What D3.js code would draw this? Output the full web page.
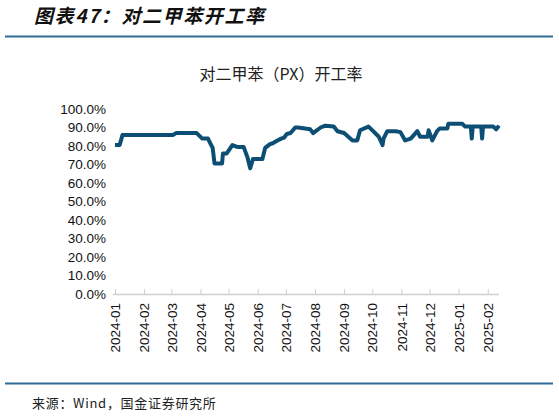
<!DOCTYPE html>
<html><head><meta charset="utf-8">
<script src="https://cdn.jsdelivr.net/npm/d3@7"></script>
<style>body{margin:0;background:#fff}svg{display:block}</style>
</head><body>
<svg id="c" width="559" height="416"></svg>
<script>
const dates = ["2024-01-01","2024-01-06","2024-01-09","2024-03-03","2024-03-06","2024-03-28","2024-04-03","2024-04-09","2024-04-14","2024-04-16","2024-04-24","2024-04-25","2024-04-29","2024-05-05","2024-05-10","2024-05-17","2024-05-21","2024-05-24","2024-05-27","2024-06-06","2024-06-09","2024-06-14","2024-06-17","2024-06-22","2024-06-26","2024-06-29","2024-07-02","2024-07-06","2024-07-11","2024-07-14","2024-07-27","2024-07-30","2024-08-07","2024-08-12","2024-08-21","2024-08-25","2024-09-01","2024-09-10","2024-09-15","2024-09-18","2024-09-27","2024-10-02","2024-10-08","2024-10-12","2024-10-13","2024-10-17","2024-10-26","2024-10-31","2024-11-05","2024-11-11","2024-11-18","2024-11-21","2024-11-29","2024-11-30","2024-12-04","2024-12-09","2024-12-12","2024-12-20","2024-12-21","2025-01-05","2025-01-08","2025-01-14","2025-01-15","2025-01-16","2025-01-25","2025-01-26","2025-01-27","2025-02-07","2025-02-10","2025-02-13"];
const rates = [80.5,80.5,86,86,87,87,84,84,79,70.5,70.5,76,76,80.5,79.5,79.5,74,68,73,73,79,81,81.5,83,84,84.5,86.5,87,90,90,89,87,90,91,90.5,88,87,83,83,88.5,90.5,88,85,80.5,84,88,88,87.5,83,84,88,85,85,88.5,83,88,89.5,89.5,92,92,90.5,90.5,84,90.5,90.5,84,90.5,90.5,89,91];
const yTicks = [0,10,20,30,40,50,60,70,80,90,100];
const xTickLabels = ["2024-01","2024-02","2024-03","2024-04","2024-05","2024-06","2024-07","2024-08","2024-09","2024-10","2024-11","2024-12","2025-01","2025-02"];

const svg = d3.select("#c");
const parse = d3.timeParse("%Y-%m-%d");
const parseM = d3.timeParse("%Y-%m");
const data = dates.map((d,i)=>({d:parse(d), v:rates[i]}));

const x = d3.scaleTime().domain([parse("2024-01-01"), parse("2025-02-13")]).range([115, 499]);
const y = d3.scaleLinear().domain([0,100]).range([294, 109]);

// header
svg.append("text").attr("x",34).attr("y",23)
  .attr("font-family","'Noto Sans CJK SC', sans-serif").attr("font-size",19)
  .attr("font-weight","bold").attr("font-style","italic").attr("fill","#111")
  .attr("letter-spacing",1.6)
  .text("图表47：对二甲苯开工率");
svg.append("line").attr("x1",5).attr("x2",553).attr("y1",36.5).attr("y2",36.5)
  .attr("stroke","#2f6c97").attr("stroke-width",2);
svg.append("line").attr("x1",5).attr("x2",553).attr("y1",383.5).attr("y2",383.5)
  .attr("stroke","#2f6c97").attr("stroke-width",2);
svg.append("text").attr("x",32).attr("y",408)
  .attr("font-family","'Noto Sans CJK SC', sans-serif").attr("font-size",13).attr("fill","#222")
  .attr("letter-spacing",0.7)
  .text("来源：Wind，国金证券研究所");

// chart title
svg.append("text").attr("x",281).attr("y",80).attr("text-anchor","middle")
  .attr("font-family","'Noto Sans CJK SC', sans-serif").attr("font-size",16).attr("fill","#222")
  .text("对二甲苯（PX）开工率");

// y axis labels
const yAxis = d3.axisLeft(y).tickValues(yTicks).tickSize(0).tickFormat(d=>d.toFixed(1)+"%");
const gy = svg.append("g").attr("transform","translate(106,0)").call(yAxis);
gy.select(".domain").remove();
gy.selectAll("text").attr("font-family","'Liberation Sans', Arial, sans-serif").attr("font-size",13.5).attr("fill","#111").attr("x",0);

// x axis
const xAxis = d3.axisBottom(x).tickValues(xTickLabels.map(parseM)).tickSize(5).tickFormat(d3.timeFormat("%Y-%m"));
const gx = svg.append("g").attr("transform","translate(0,294)").call(xAxis);
gx.select(".domain").attr("d","M113,0.5H499").attr("stroke","#d0d0d0").attr("stroke-width",1.5);
gx.selectAll(".tick line").attr("stroke","#d0d0d0").attr("y1",-5).attr("y2",0);
gx.selectAll(".tick text")
  .attr("font-family","'Liberation Sans', Arial, sans-serif").attr("font-size",13.5).attr("fill","#111")
  .attr("transform","rotate(-90)").attr("text-anchor","end").attr("x",-9).attr("y",0).attr("dy","0.35em");

// line
svg.append("path").datum(data)
  .attr("d", d3.line().x(d=>x(d.d)).y(d=>y(d.v)))
  .attr("fill","none").attr("stroke","#0d4f74").attr("stroke-width",4).attr("stroke-linejoin","round");
</script>
</body></html>
